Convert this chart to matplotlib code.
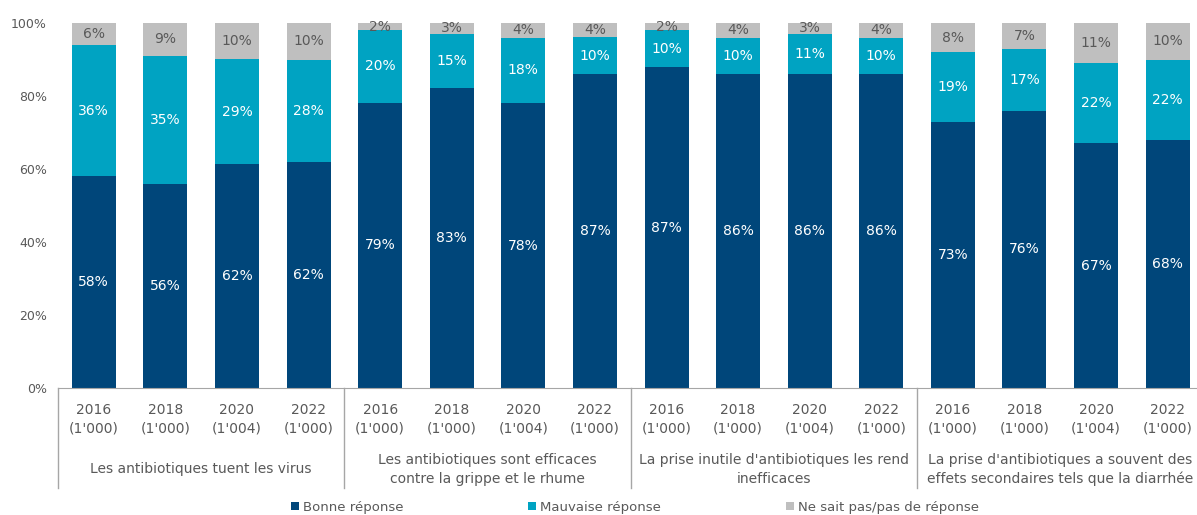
import numpy as np
import matplotlib.pyplot as plt
from matplotlib.patches import Patch

# ===============================
# Datos (porcentajes mostrados en el gráfico)
# ===============================
years = ["2016", "2018", "2020", "2022"]
n_sample = ["1'000", "1'000", "1'004", "1'000"]

groups = [
    "Les antibiotiques tuent les virus",
    "Les antibiotiques sont efficaces\ncontre la grippe et le rhume",
    "La prise inutile d'antibiotiques les rend\ninefficaces",
    "La prise d'antibiotiques a souvent des\neffets secondaires tels que la diarrhée",
]

bonne = [58, 56, 62, 62, 79, 83, 78, 87, 87, 86, 86, 86, 73, 76, 67, 68]
mauvaise = [36, 35, 29, 28, 20, 15, 18, 10, 10, 10, 11, 10, 19, 17, 22, 22]
ne_sait = [6, 9, 10, 10, 2, 3, 4, 4, 2, 4, 3, 4, 8, 7, 11, 10]

series_names = ["Bonne réponse", "Mauvaise réponse", "Ne sait pas/pas de réponse"]
colors = ["#00467A", "#00A3C2", "#BFBFBF"]
label_colors = ["white", "white", "#595959"]

# ===============================
# Normalización a 100% (los redondeos no suman siempre 100)
# ===============================
vals = np.array([bonne, mauvaise, ne_sait], dtype=float)
shares = vals / vals.sum(axis=0)

x = np.arange(vals.shape[1])

fig = plt.figure(figsize=(11.97, 5.15), dpi=100)
ax = fig.add_axes([58 / 1197, 1 - 388 / 515, 1 - 58 / 1197, 365 / 515])

bottom = np.zeros(len(x))
for i in range(3):
    ax.bar(x, shares[i], bottom=bottom, width=0.615, color=colors[i],
           edgecolor="none", label=series_names[i])
    for xi, b, h, v in zip(x, bottom, shares[i], vals[i]):
        ax.text(xi, b + h / 2, f"{int(v)}%", ha="center", va="center",
                fontsize=10, color=label_colors[i])
    bottom += shares[i]

ax.set_ylim(0, 1)
ax.set_xlim(-0.5, 15.41)
ax.set_yticks(np.linspace(0, 1, 6))
ax.set_yticklabels([f"{int(t * 100)}%" for t in np.linspace(0, 1, 6)])
ax.tick_params(axis="y", length=0, labelsize=9, labelcolor="#595959", pad=8)
ax.set_xticks([])

for s in ["top", "right", "left"]:
    ax.spines[s].set_visible(False)
ax.spines["bottom"].set_color("#A6A6A6")

# Etiquetas del eje X (año + n) y grupos
trans = ax.get_xaxis_transform()
for i, xi in enumerate(x):
    ax.text(xi, -0.085, f"{years[i % 4]}\n({n_sample[i % 4]})", transform=trans,
            ha="center", va="center", fontsize=10, color="#595959", linespacing=1.4)

for g, name in enumerate(groups):
    ax.text(4 * g + 1.5, -0.223, name, transform=trans, ha="center", va="center",
            fontsize=10, color="#595959", linespacing=1.4)

for sep in [-0.5, 3.5, 7.5, 11.5]:
    ax.plot([sep, sep], [0, -100 / 365], transform=trans, color="#A6A6A6",
            lw=1, clip_on=False)

handles = [Patch(facecolor=c, edgecolor="none") for c in colors]
fig.legend(handles, series_names, loc="center", bbox_to_anchor=(635 / 1197, 1 - 507 / 515),
           ncol=3, frameon=False, handlelength=0.6, handleheight=0.6,
           handletextpad=0.3, columnspacing=9.5, prop={"size": 9.5},
           labelcolor="#595959")

fig.savefig("out.png", dpi=100)
